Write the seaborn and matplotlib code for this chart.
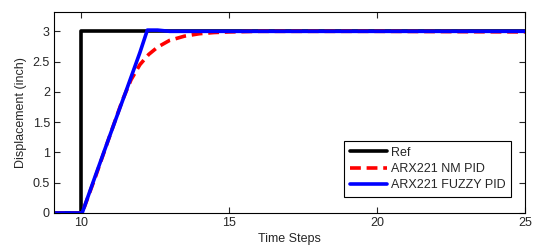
import numpy as np
import pandas as pd
import matplotlib
matplotlib.use("Agg")
import matplotlib.pyplot as plt
import seaborn as sns

# Reference step
ref_t = [9.1, 10.0, 10.0, 10.02, 10.02, 25.0]
ref_y = [0.0, 0.0, 1.4, 1.4, 3.0, 3.0]

# ARX221 NM PID
nm_t = [9.1, 10.05, 10.5, 11.0, 11.4, 11.7, 12.0, 12.3, 12.6, 13.0, 13.5, 14.0, 14.5, 15.0, 16.0, 20.0, 25.0]
nm_y = [0.0, 0.0, 0.6, 1.3, 1.85, 2.2, 2.45, 2.62, 2.74, 2.85, 2.92, 2.96, 2.98, 2.99, 3.0, 3.0, 2.99]

# ARX221 FUZZY PID
fz_t = [9.1, 10.05, 10.5, 11.0, 11.5, 12.0, 12.25, 12.6, 13.0, 25.0]
fz_y = [0.0, 0.0, 0.62, 1.3, 1.97, 2.65, 3.02, 3.02, 3.0, 3.0]

labels = ["Ref", "ARX221 NM PID", "ARX221 FUZZY PID"]
x_ticks = [10, 15, 20, 25]
y_ticks = [0, 0.5, 1, 1.5, 2, 2.5, 3]
y_tick_labels = ['0', '0.5', '1', '1.5', '2', '2.5', '3']

sns.set_style("white")
plt.rcParams['font.family'] = ['Liberation Sans', 'DejaVu Sans']

fig = plt.figure(figsize=(5.37, 2.49), dpi=100)
ax = fig.add_axes([0.1006, 0.1446, 0.877, 0.8074])

sns.lineplot(x=ref_t, y=ref_y, ax=ax, color='black', lw=2.6, label=labels[0], sort=False, estimator=None)
sns.lineplot(x=nm_t, y=nm_y, ax=ax, color='red', lw=2.6, label=labels[1], sort=False, estimator=None, linestyle=(0, (3, 1.6)))
sns.lineplot(x=fz_t, y=fz_y, ax=ax, color='blue', lw=2.6, label=labels[2], sort=False, estimator=None)

ax.set_xlim(9.1, 25)
ax.set_ylim(0, 3.32)
ax.set_xticks(x_ticks)
ax.set_yticks(y_ticks)
ax.set_yticklabels(y_tick_labels)
ax.tick_params(direction='in', length=4, width=0.8, labelsize=9, top=True, right=True, bottom=True, left=True, pad=3)
for s in ax.spines.values():
    s.set_color('black')
    s.set_linewidth(0.8)
ax.set_xlabel("Time Steps", fontsize=9, labelpad=3)
ax.set_ylabel("Displacement (inch)", fontsize=9, labelpad=4)

leg = ax.legend(loc='lower right', bbox_to_anchor=(0.970, 0.08), borderaxespad=0, fontsize=9, frameon=True, fancybox=False,
                edgecolor='black', framealpha=1, handlelength=3.0, borderpad=0.45, labelspacing=0.35, handletextpad=0.25)
leg.get_frame().set_linewidth(0.8)

fig.savefig("out.png", dpi=100)
